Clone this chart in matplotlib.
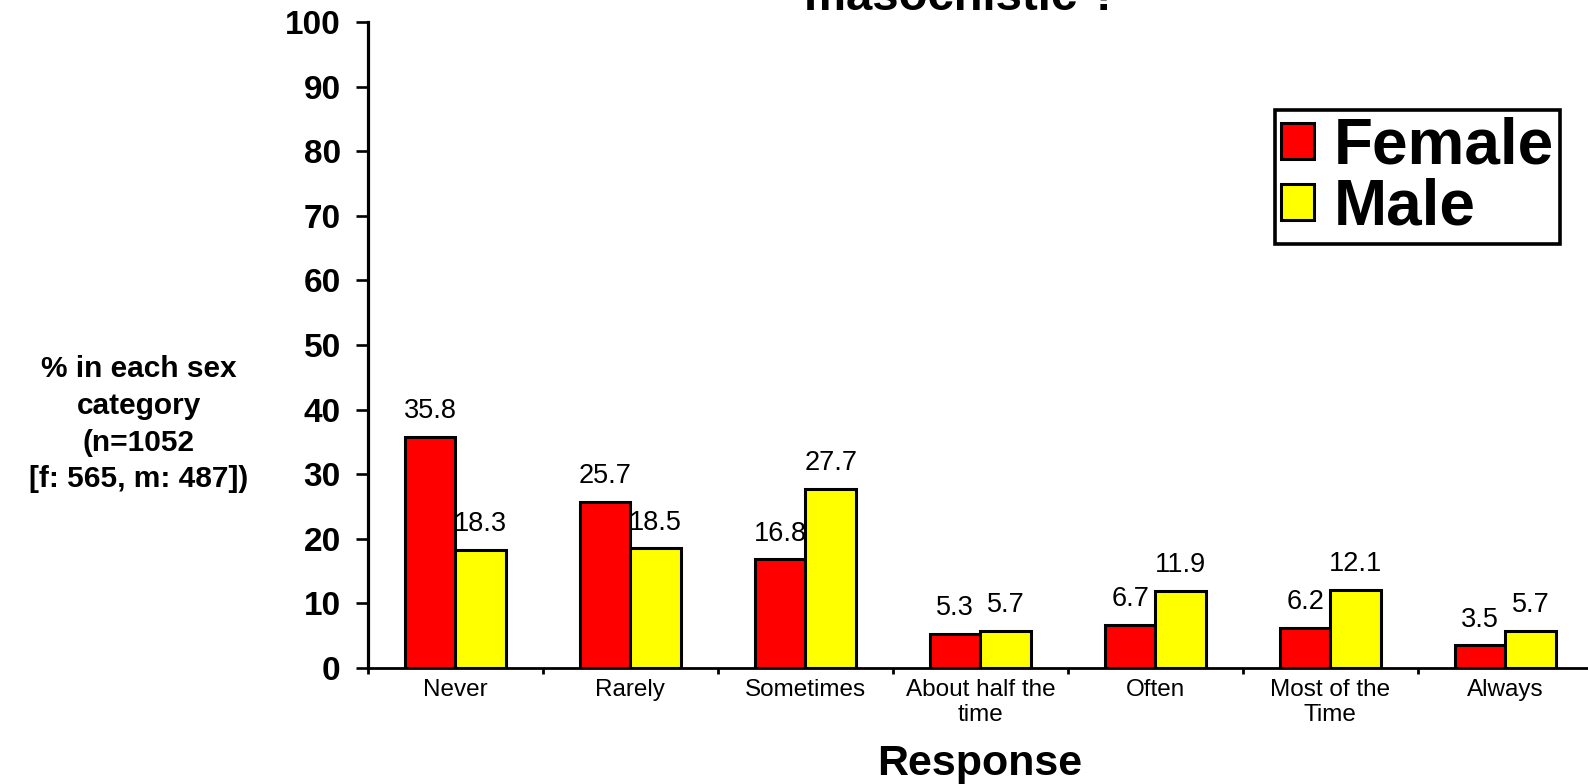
import matplotlib.pyplot as plt
import numpy as np

plt.rcParams['font.family'] = ['Liberation Sans', 'DejaVu Sans']

# Data
categories = ['Never', 'Rarely', 'Sometimes', 'About half the\ntime', 'Often',
              'Most of the\nTime', 'Always']
female = [35.8, 25.7, 16.8, 5.3, 6.7, 6.2, 3.5]
male = [18.3, 18.5, 27.7, 5.7, 11.9, 12.1, 5.7]
y_ticks = [0, 10, 20, 30, 40, 50, 60, 70, 80, 90, 100]

fig = plt.figure(figsize=(15.88, 7.84), dpi=100)
ax = fig.add_axes([0.2317, 0.148, 0.7714, 0.824])

x = np.arange(len(categories))
w = 0.288

bars_f = ax.bar(x - w / 2, female, w, color='#ff0000', edgecolor='black',
                linewidth=2.2, label='Female', zorder=3)
bars_m = ax.bar(x + w / 2, male, w, color='#ffff00', edgecolor='black',
                linewidth=2.2, label='Male', zorder=3)

# value labels above each bar
for bars, vals in [(bars_f, female), (bars_m, male)]:
    for b, v in zip(bars, vals):
        ax.annotate(f'{v:.1f}', (b.get_x() + b.get_width() / 2, v),
                    xytext=(0, 13.5), textcoords='offset points',
                    ha='center', va='baseline', fontsize=19.5, zorder=4)

ax.set_xlim(-0.5, 6.5)
ax.set_ylim(0, 100)
ax.set_yticks(y_ticks)
ax.set_yticklabels([str(t) for t in y_ticks], fontsize=24, fontweight='bold')
ax.set_xticks(x)
ax.set_xticklabels(categories, fontsize=17.5, linespacing=1.15)
ax.set_xticks(np.arange(-0.5, 7, 1), minor=True)

ax.tick_params(axis='x', which='major', length=0, pad=8)
ax.tick_params(axis='x', which='minor', length=4.2, width=2.0, direction='out')
ax.tick_params(axis='y', length=8.6, width=1.9, pad=11)

for side in ['top', 'right']:
    ax.spines[side].set_visible(False)
ax.spines['left'].set_linewidth(2.3)
ax.spines['bottom'].set_linewidth(2.0)
ax.spines['bottom'].set_clip_on(False)

# axis labels
fig.text(0.0875, 0.459, '% in each sex\ncategory\n(n=1052\n[f: 565, m: 487])',
         ha='center', va='center', multialignment='center', fontsize=21.5,
         fontweight='bold', linespacing=1.4)
fig.text(980 / 1588, 1 - 775 / 784, 'Response', ha='center', va='baseline',
         fontsize=31, fontweight='bold')

# title, mostly cut off at the top of the picture
fig.text(962 / 1588, 1 - 10 / 784, 'masochistic ?', ha='center', va='baseline',
         fontsize=34, fontweight='bold')

leg = ax.legend(loc='upper right', bbox_to_anchor=(1560 / 1588, 1 - 110 / 784),
                bbox_transform=fig.transFigure, fancybox=False, framealpha=1,
                edgecolor='black', prop={'size': 46, 'weight': 'bold'},
                handlelength=0.52, handleheight=0.5, handletextpad=0.3,
                borderpad=0.1, labelspacing=0.02, borderaxespad=0)
leg.get_frame().set_linewidth(2.6)

plt.savefig('out.png', dpi=100)
